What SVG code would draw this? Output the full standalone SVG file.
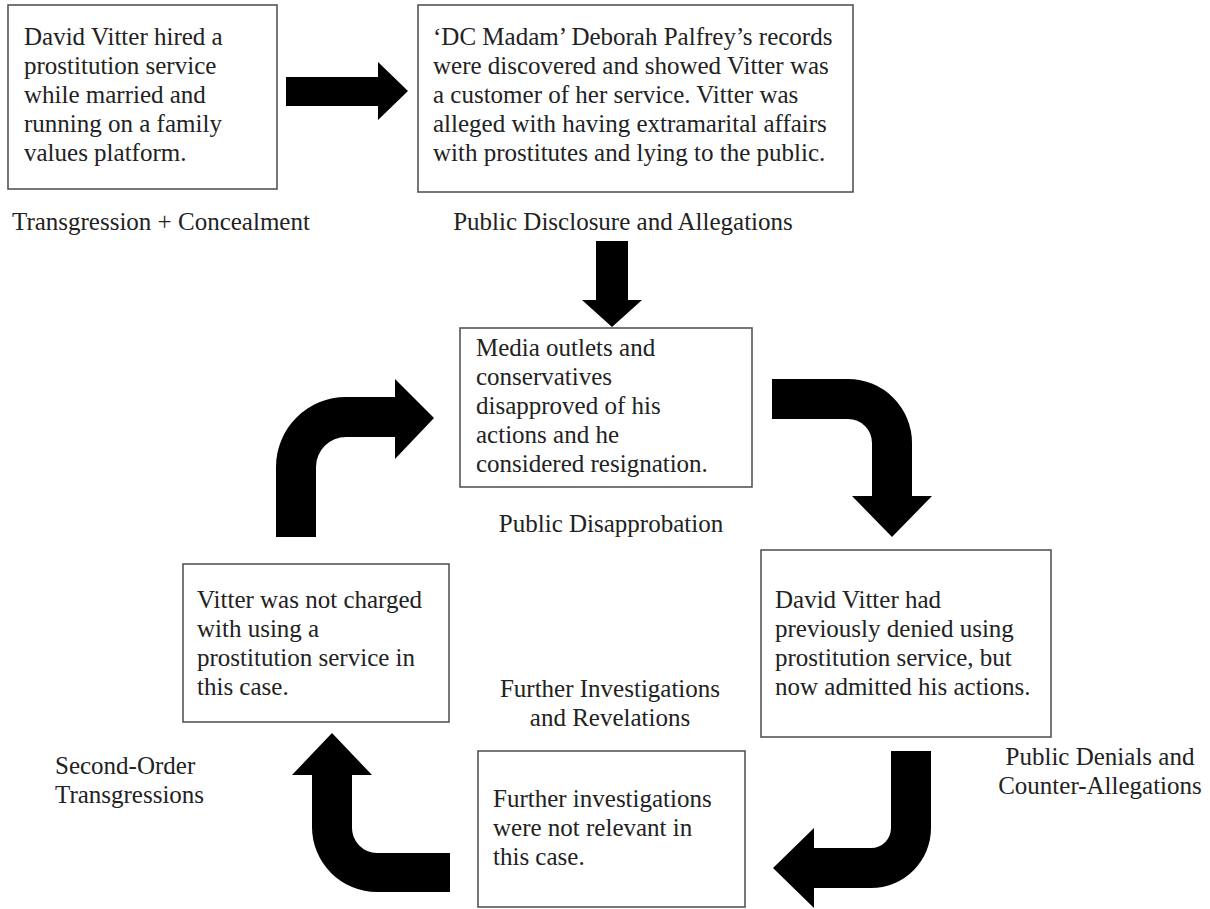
<svg xmlns="http://www.w3.org/2000/svg" width="1210" height="909" viewBox="0 0 1210 909">
<style>
.box{fill:#fff;stroke:#555;stroke-width:1.6}
.t{font-family:"Liberation Serif","Times New Roman",serif;font-size:25px;fill:#222}
.m{text-anchor:middle}
.arr{fill:#000}
</style>
<rect width="1210" height="909" fill="#fff"/>
<g id="connectors">
<path class="arr" d="M286 77 L378 77 L378 62 L408 91 L378 120 L378 106 L286 106 Z"/>
<path class="arr" d="M596 241 L628 241 L628 300 L642 300 L612 327 L582 300 L596 300 Z"/>
<path class="arr" d="M772 379 L848 379 A64 64 0 0 1 912 443 L912 496 L932 496 L892 537 L852 496 L872 496 L872 443 A24 24 0 0 0 848 419 L772 419 Z"/>
<path class="arr" d="M891 751 L931 751 L931 828 A60 60 0 0 1 871 888 L814 888 L814 908 L773 868 L814 828 L814 848 L871 848 A20 20 0 0 0 891 828 Z"/>
<path class="arr" d="M450 853 L450 892 L377 892 A65 65 0 0 1 312 827 L312 775 L292 775 L332 733 L372 775 L352 775 L352 827 A25 25 0 0 0 377 853 Z"/>
<path class="arr" d="M276 537 L276 467 A70 70 0 0 1 346 397 L395 397 L395 379 L434 418 L395 459 L395 437 L346 437 A30 30 0 0 0 316 467 L316 537 Z"/>
</g>
<g id="node-transgression">
<rect class="box" x="8" y="5" width="269" height="184"/>
<text class="t" x="24" y="45">David Vitter hired a</text>
<text class="t" x="24" y="74">prostitution service</text>
<text class="t" x="24" y="103">while married and</text>
<text class="t" x="24" y="132">running on a family</text>
<text class="t" x="24" y="161">values platform.</text>
<text class="t" x="12" y="230">Transgression + Concealment</text>
</g>
<g id="node-disclosure">
<rect class="box" x="418" y="5" width="435" height="187"/>
<text class="t" x="433" y="45">‘DC Madam’ Deborah Palfrey’s records</text>
<text class="t" x="433" y="74">were discovered and showed Vitter was</text>
<text class="t" x="433" y="103">a customer of her service. Vitter was</text>
<text class="t" x="433" y="132">alleged with having extramarital affairs</text>
<text class="t" x="433" y="161">with prostitutes and lying to the public.</text>
<text class="t m" x="623" y="230">Public Disclosure and Allegations</text>
</g>
<g id="node-disapprobation">
<rect class="box" x="460" y="328" width="292" height="159"/>
<text class="t" x="476" y="356">Media outlets and</text>
<text class="t" x="476" y="385">conservatives</text>
<text class="t" x="476" y="414">disapproved of his</text>
<text class="t" x="476" y="443">actions and he</text>
<text class="t" x="476" y="472">considered resignation.</text>
<text class="t m" x="611" y="532">Public Disapprobation</text>
</g>
<g id="node-denials">
<rect class="box" x="761" y="550" width="290" height="187"/>
<text class="t" x="775" y="608">David Vitter had</text>
<text class="t" x="775" y="637">previously denied using</text>
<text class="t" x="775" y="666">prostitution service, but</text>
<text class="t" x="775" y="695">now admitted his actions.</text>
<text class="t m" x="1100" y="765">Public Denials and</text>
<text class="t m" x="1100" y="794">Counter-Allegations</text>
</g>
<g id="node-investigations">
<rect class="box" x="478" y="751" width="267" height="156"/>
<text class="t" x="493" y="807">Further investigations</text>
<text class="t" x="493" y="836">were not relevant in</text>
<text class="t" x="493" y="865">this case.</text>
<text class="t m" x="610" y="697">Further Investigations</text>
<text class="t m" x="610" y="726">and Revelations</text>
</g>
<g id="node-second-order">
<rect class="box" x="183" y="564" width="266" height="158"/>
<text class="t" x="197" y="608">Vitter was not charged</text>
<text class="t" x="197" y="637">with using a</text>
<text class="t" x="197" y="666">prostitution service in</text>
<text class="t" x="197" y="695">this case.</text>
<text class="t" x="55" y="774">Second-Order</text>
<text class="t" x="55" y="803">Transgressions</text>
</g>
</svg>
